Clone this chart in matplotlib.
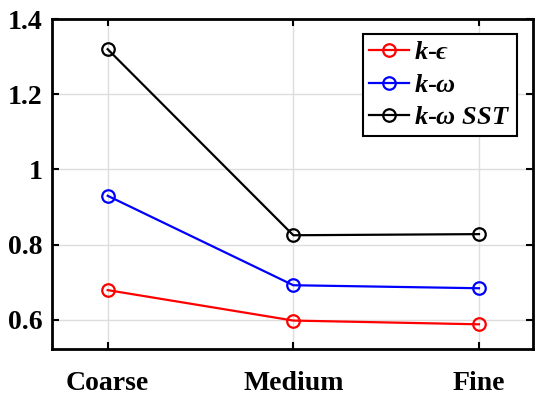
import numpy as np
import matplotlib.pyplot as plt

plt.rcParams['font.family'] = 'Liberation Serif'
plt.rcParams['font.weight'] = 'bold'
plt.rcParams['mathtext.fontset'] = 'custom'
plt.rcParams['mathtext.it'] = 'Liberation Serif:italic:bold'
plt.rcParams['mathtext.rm'] = 'Liberation Serif:bold'

meshes = ['Coarse', 'Medium', 'Fine']
k_eps = [0.679, 0.598, 0.588]
k_omega = [0.930, 0.692, 0.684]
k_omega_sst = [1.320, 0.825, 0.828]

x = np.arange(1, len(meshes) + 1)

fig = plt.figure(figsize=(5.36, 3.99), dpi=100)
ax = fig.add_axes([0.097, 0.125, 0.897, 0.827])

style = dict(marker='o', markersize=9, markerfacecolor='none',
             markeredgewidth=1.6, linewidth=1.6)
ax.plot(x, k_eps, color='red', label='$k$-$\u03f5$', **style)
ax.plot(x, k_omega, color='blue', label=r'$k$-$\omega$', **style)
ax.plot(x, k_omega_sst, color='black', label=r'$k$-$\omega\ SST$', **style)

ax.set_xlim(0.7, 3.29)
ax.set_ylim(0.522, 1.4)
ax.set_xticks(x)
ax.set_xticklabels(meshes)
ax.set_yticks([0.6, 0.8, 1.0, 1.2, 1.4])
ax.set_yticklabels(['0.6', '0.8', '1', '1.2', '1.4'])

ax.grid(True, color='#dddddd', linewidth=1)
ax.set_axisbelow(True)
ax.tick_params(direction='in', top=True, right=True, length=5, width=1.5,
               labelsize=20)
ax.tick_params(axis='x', pad=16)
ax.tick_params(axis='y', pad=7)
for s in ax.spines.values():
    s.set_linewidth(2)

leg = ax.legend(loc='upper right', bbox_to_anchor=(0.967, 0.955), fontsize=19,
                handlelength=1.5, fancybox=False, framealpha=1,
                borderpad=0.25, labelspacing=0.35, handletextpad=0.2,
                borderaxespad=0)
leg.get_frame().set_edgecolor('black')
leg.get_frame().set_linewidth(1.5)

fig.savefig('out.png', dpi=100)
